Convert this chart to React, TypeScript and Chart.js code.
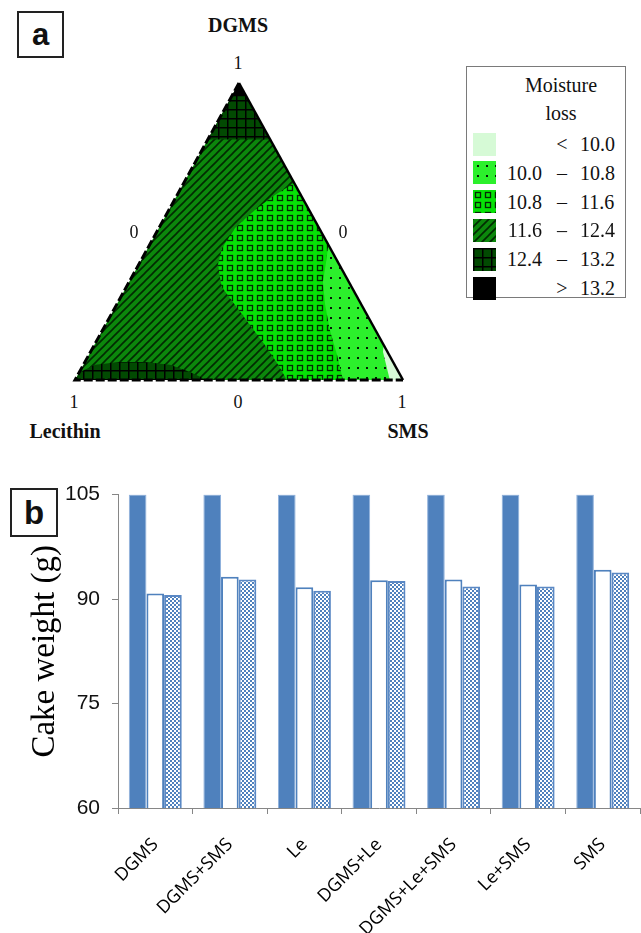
import React, { useEffect, useMemo, useRef } from 'react';
import { Chart, registerables } from 'chart.js';

Chart.register(...registerables);

// ---------------- Panel a : ternary contour (DGMS, Lecithin, SMS fractions) ----------------
const vertexNames = ['DGMS', 'Lecithin', 'SMS'];
const vertexTickTop = ['1'];
const sideTicks = ['0', '0'];
const bottomTicks = ['1', '0', '1'];

// each point = [DGMS, Lecithin, SMS]
const regionAbove13_2 = [[1, 0, 0], [0.955, 0.045, 0], [0.955, 0, 0.045]];
const region12_4Top = [[1, 0, 0], [0.81, 0.19, 0], [0.81, 0, 0.19]];
const region12_4Base = [
  [0, 1, 0], [0.027, 0.971, 0.002], [0.051, 0.913, 0.036], [0.061, 0.832, 0.107],
  [0.061, 0.756, 0.183], [0.051, 0.685, 0.264], [0.027, 0.636, 0.337], [0, 0.598, 0.402],
];
const region11_6 = [[1, 0, 0], [0, 1, 0], [0, 0, 1]];
const region10_8 = [
  [0.663, 0, 0.337], [0.623, 0.079, 0.298], [0.572, 0.166, 0.262], [0.512, 0.256, 0.232],
  [0.444, 0.33, 0.226], [0.387, 0.371, 0.242], [0.313, 0.396, 0.291], [0.253, 0.386, 0.361],
  [0.185, 0.374, 0.441], [0.118, 0.362, 0.52], [0.051, 0.355, 0.594], [0, 0.354, 0.646], [0, 0, 1],
];
const region10_0 = [
  [0.455, 0, 0.545], [0.397, 0.036, 0.567], [0.33, 0.079, 0.591], [0.253, 0.111, 0.636],
  [0.168, 0.139, 0.693], [0.084, 0.159, 0.757], [0, 0.183, 0.817], [0, 0, 1],
];
const regionBelow10 = [[0.118, 0, 0.882], [0.094, 0.014, 0.892], [0.051, 0.026, 0.923], [0, 0.04, 0.96], [0, 0, 1]];
const outlineDashed = [[1, 0, 0], [0, 1, 0], [0, 0, 1]];
const outlineSolid = [[0, 0, 1], [1, 0, 0]];

const legendTitle = ['Moisture', 'loss'];
const legendLow = ['', '10.0', '10.8', '11.6', '12.4', ''];
const legendOp = ['<', '–', '–', '–', '–', '>'];
const legendHigh = ['10.0', '10.8', '11.6', '12.4', '13.2', '13.2'];

// ---------------- Panel b : cake weight bars ----------------
const barCategories = ['DGMS', 'DGMS+SMS', 'Le', 'DGMS+Le', 'DGMS+Le+SMS', 'Le+SMS', 'SMS'];
const seriesFilled = [105, 105, 105, 105, 105, 105, 105];
const seriesWhite = [90.8, 93.2, 91.7, 92.7, 92.8, 92.1, 94.2];
const seriesChecked = [90.6, 92.8, 91.2, 92.6, 91.8, 91.8, 93.8];
const yTicks = [60, 75, 90, 105];
const yTitle = 'Cake weight (g)';

const H = Math.sqrt(3) / 2;
const toXY = (p: number[]) => ({ x: p[2] + p[0] / 2, y: p[0] * H });

function tile(w: number, h: number, draw: (c: CanvasRenderingContext2D) => void) {
  const c = document.createElement('canvas');
  c.width = w;
  c.height = h;
  const ctx = c.getContext('2d')!;
  draw(ctx);
  return c;
}

function makeTiles() {
  return {
    light: tile(4, 4, (c) => { c.fillStyle = '#D6FAD6'; c.fillRect(0, 0, 4, 4); }),
    dots: tile(9, 10, (c) => {
      c.fillStyle = '#2CF02C'; c.fillRect(0, 0, 9, 10);
      c.fillStyle = '#061806'; c.fillRect(4, 4, 2, 2);
    }),
    squares: tile(10, 10, (c) => {
      c.fillStyle = '#06E206'; c.fillRect(0, 0, 10, 10);
      c.strokeStyle = '#062806'; c.lineWidth = 1.3; c.strokeRect(2.5, 2.5, 5, 5);
    }),
    diag: tile(8, 8, (c) => {
      c.fillStyle = '#0C870C'; c.fillRect(0, 0, 8, 8);
      c.strokeStyle = '#022A02'; c.lineWidth = 1.6;
      c.beginPath();
      c.moveTo(-1, 9); c.lineTo(9, -1);
      c.moveTo(-1, 1); c.lineTo(1, -1);
      c.moveTo(7, 9); c.lineTo(9, 7);
      c.stroke();
    }),
    grid: tile(9, 9, (c) => {
      c.fillStyle = '#024A02'; c.fillRect(0, 0, 9, 9);
      c.fillStyle = '#000'; c.fillRect(0, 0, 9, 1.5); c.fillRect(0, 0, 1.5, 9);
    }),
    black: tile(4, 4, (c) => { c.fillStyle = '#000'; c.fillRect(0, 0, 4, 4); }),
  };
}

const Lbl = ({ x, y, children, style }: any) => (
  <div
    style={{
      position: 'absolute', left: x, top: y, transform: 'translate(-50%, -50%)',
      whiteSpace: 'nowrap', lineHeight: 1, ...style,
    }}
  >
    {children}
  </div>
);

const serif = '"Liberation Serif", "Times New Roman", serif';
const sans = '"Liberation Sans", Arial, sans-serif';

function TernaryPanel() {
  const ref = useRef<HTMLCanvasElement>(null);
  const tiles = useMemo(() => makeTiles(), []);
  useEffect(() => {
    const canvas = ref.current!;
    const ctx = canvas.getContext('2d')!;
    const pat = (t: HTMLCanvasElement) => ctx.createPattern(t, 'repeat')!;
    const area = (pts: number[][], bg: any) => ({
      data: pts.map(toXY), showLine: true, fill: 'shape', backgroundColor: bg,
      borderColor: 'transparent', borderWidth: 0, pointRadius: 0, pointHoverRadius: 0, tension: 0,
    });
    const mx = 10 / 328;
    const my = 10 / (297 / H);
    const chart = new Chart(canvas, {
      type: 'scatter',
      data: {
        datasets: [
          {
            data: outlineSolid.map(toXY), showLine: true, fill: false, borderColor: '#000',
            borderWidth: 2.5, pointRadius: 0, tension: 0,
          },
          {
            data: outlineDashed.map(toXY), showLine: true, fill: false, borderColor: '#000',
            borderWidth: 3, borderDash: [9, 3], pointRadius: 0, tension: 0,
          },
          area(regionAbove13_2, pat(tiles.black)),
          area(region12_4Top, pat(tiles.grid)),
          area(regionBelow10, pat(tiles.light)),
          area(region10_0, pat(tiles.dots)),
          area(region10_8, pat(tiles.squares)),
          area(region12_4Base, pat(tiles.grid)),
          area(region11_6, pat(tiles.diag)),
        ] as any,
      },
      options: {
        responsive: false,
        animation: false,
        layout: { padding: 0 },
        plugins: { legend: { display: false }, tooltip: { enabled: false } },
        scales: {
          x: { type: 'linear', display: false, min: -mx, max: 1 + mx },
          y: { type: 'linear', display: false, min: -my, max: H + my },
        },
      },
    });
    return () => chart.destroy();
  }, [tiles]);

  const swatches = [tiles.light, tiles.dots, tiles.squares, tiles.diag, tiles.grid, tiles.black];
  const labelFont = { fontFamily: serif, fontSize: 20, color: '#111' };
  return (
    <>
      <div
        style={{
          position: 'absolute', left: 17, top: 11, width: 43, height: 43, border: '2px solid #222',
          display: 'flex', alignItems: 'center', justifyContent: 'center',
          fontFamily: sans, fontWeight: 'bold', fontSize: 31, color: '#111', lineHeight: 1,
        }}
      >
        a
      </div>
      <canvas
        ref={ref}
        width={348}
        height={317}
        style={{ position: 'absolute', left: 65, top: 73, width: 348, height: 317 }}
      />
      <Lbl x={238} y={25} style={{ ...labelFont, fontWeight: 'bold' }}>{vertexNames[0]}</Lbl>
      <Lbl x={65} y={431} style={{ ...labelFont, fontWeight: 'bold' }}>{vertexNames[1]}</Lbl>
      <Lbl x={408} y={431} style={{ ...labelFont, fontWeight: 'bold' }}>{vertexNames[2]}</Lbl>
      <Lbl x={238} y={63} style={{ ...labelFont, fontSize: 18 }}>{vertexTickTop[0]}</Lbl>
      <Lbl x={134} y={232} style={{ ...labelFont, fontSize: 18 }}>{sideTicks[0]}</Lbl>
      <Lbl x={343} y={232} style={{ ...labelFont, fontSize: 18 }}>{sideTicks[1]}</Lbl>
      <Lbl x={74} y={402} style={{ ...labelFont, fontSize: 18 }}>{bottomTicks[0]}</Lbl>
      <Lbl x={238} y={402} style={{ ...labelFont, fontSize: 18 }}>{bottomTicks[1]}</Lbl>
      <Lbl x={402} y={402} style={{ ...labelFont, fontSize: 18 }}>{bottomTicks[2]}</Lbl>

      <div
        style={{
          position: 'absolute', left: 466, top: 66, width: 158, height: 230,
          border: '1px solid #7a7a7a', background: '#fff',
        }}
      />
      <Lbl x={561} y={85} style={labelFont}>{legendTitle[0]}</Lbl>
      <Lbl x={561} y={113} style={labelFont}>{legendTitle[1]}</Lbl>
      {legendHigh.map((hi, i) => {
        const cy = 144 + i * 28.8;
        return (
          <React.Fragment key={i}>
            <div
              style={{
                position: 'absolute', left: 473, top: cy - 11.5, width: 23, height: 23,
                backgroundImage: `url(${swatches[i].toDataURL()})`,
              }}
            />
            <div
              style={{
                position: 'absolute', left: 500, width: 42, top: cy - 10, textAlign: 'right',
                ...labelFont, lineHeight: '20px',
              }}
            >
              {legendLow[i]}
            </div>
            <Lbl x={562} y={cy} style={labelFont}>{legendOp[i]}</Lbl>
            <div
              style={{
                position: 'absolute', left: 580, top: cy - 10, ...labelFont, lineHeight: '20px',
              }}
            >
              {hi}
            </div>
          </React.Fragment>
        );
      })}
    </>
  );
}

function BarPanel() {
  const ref = useRef<HTMLCanvasElement>(null);
  useEffect(() => {
    const canvas = ref.current!;
    const ctx = canvas.getContext('2d')!;
    const checker = ctx.createPattern(
      tile(4, 4, (c) => {
        c.fillStyle = '#ffffff'; c.fillRect(0, 0, 4, 4);
        c.fillStyle = '#4F81BD'; c.fillRect(0, 0, 2, 2); c.fillRect(2, 2, 2, 2);
      }),
      'repeat',
    );
    const common = { categoryPercentage: 0.71, barPercentage: 1.0 };
    const axisColor = '#868686';
    const chart = new Chart(canvas, {
      type: 'bar',
      data: {
        labels: barCategories,
        datasets: [
          { data: seriesFilled, backgroundColor: '#4F81BD', borderColor: '#8FB1DC', borderWidth: 1, ...common },
          { data: seriesWhite, backgroundColor: '#ffffff', borderColor: '#4F81BD', borderWidth: 2, ...common },
          { data: seriesChecked, backgroundColor: checker, borderColor: '#5A88C4', borderWidth: 2, ...common },
        ] as any,
      },
      options: {
        responsive: false,
        animation: false,
        layout: { padding: { top: 20, right: 1, left: 0, bottom: 0 } },
        plugins: { legend: { display: false }, tooltip: { enabled: false } },
        scales: {
          x: {
            grid: { drawOnChartArea: false, drawTicks: true, tickLength: 6, color: axisColor },
            border: { display: true, color: axisColor, width: 1 },
            ticks: {
              autoSkip: false, maxRotation: 45, minRotation: 45, padding: 20,
              color: '#000', font: { family: '"Open Sans", sans-serif', size: 18 },
            },
            afterFit: (s: any) => { s.height = 125; },
          },
          y: {
            min: 60, max: 105,
            afterBuildTicks: (s: any) => { s.ticks = yTicks.map((v) => ({ value: v })); },
            grid: { drawOnChartArea: false, drawTicks: true, tickLength: 6, color: axisColor },
            border: { display: true, color: axisColor, width: 1 },
            ticks: {
              padding: 12, color: '#111',
              font: { family: '"Liberation Sans", Arial, sans-serif', size: 21 },
            },
            title: {
              display: true, text: yTitle, color: '#000',
              font: { family: '"Liberation Serif", serif', size: 33 },
              padding: { top: 26, bottom: 0 },
            },
            afterFit: (s: any) => { s.width = 118; },
          },
        },
      },
    });
    return () => chart.destroy();
  }, []);
  return (
    <>
      <canvas
        ref={ref}
        width={641}
        height={463}
        style={{ position: 'absolute', left: 0, top: 470, width: 641, height: 463 }}
      />
      <div
        style={{
          position: 'absolute', left: 10, top: 488, width: 44, height: 45, border: '2px solid #222',
          display: 'flex', alignItems: 'center', justifyContent: 'center', background: '#fff',
          fontFamily: sans, fontWeight: 'bold', fontSize: 33, color: '#111', lineHeight: 1,
        }}
      >
        b
      </div>
    </>
  );
}

export default function App() {
  return (
    <div
      style={{
        position: 'absolute', left: 0, top: 0, width: 641, height: 933,
        overflow: 'hidden', background: '#fff',
      }}
    >
      <TernaryPanel />
      <BarPanel />
    </div>
  );
}
